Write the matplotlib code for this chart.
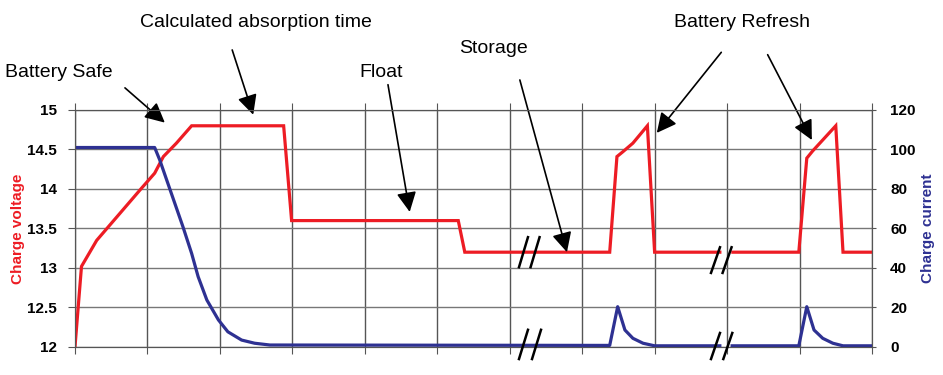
import matplotlib.pyplot as plt
import numpy as np

nan = np.nan

# time in grid units (one unit per vertical grid line), gaps at the axis breaks
t_volt = [0, 0.09, 0.30, 0.90, 1.10, 1.22, 1.40, 1.61, 2.88, 2.99, 5.29, 5.38,
          7.38, 7.48, 7.56, 7.70, 7.90, 8.00, 8.90, nan, 9.08, 9.99, 10.10,
          10.18, 10.50, 10.60, 11.0]
volt = [12.0, 13.02, 13.35, 13.99, 14.2, 14.41, 14.58, 14.8, 14.8, 13.6, 13.6,
        13.2, 13.2, 14.41, 14.47, 14.58, 14.8, 13.2, 13.2, nan, 13.2, 13.2,
        14.39, 14.48, 14.8, 13.2, 13.2]

t_curr = [0, 1.10, 1.17, 1.33, 1.49, 1.61, 1.70, 1.82, 1.98, 2.11, 2.30, 2.48,
          2.69, 7.38, 7.49, 7.59, 7.70, 7.84, 8.00, 8.90, nan, 9.07,
          9.99, 10.10, 10.20, 10.32, 10.46, 10.60, 11.0]
curr = [101, 101, 94.7, 77.8, 60.9, 47.4, 35.6, 23.8, 13.7, 7.7, 3.5, 1.9,
        1.0, 0.8, 20.4, 8.6, 4.4, 1.9, 0.6, 0.6, nan, 0.6, 0.6, 20.4, 8.6,
        4.4, 1.9, 0.6, 0.6]

red = '#ed1c24'
blue = '#2e3192'

fig = plt.figure(figsize=(9.43, 3.75), dpi=100)
ax = fig.add_axes([0.0795, 0.0747, 0.8452, 0.632])
ax2 = ax.twinx()

ax.plot(t_volt, volt, color=red, lw=2.3, solid_joinstyle='miter')
ax2.plot(t_curr, curr, color=blue, lw=2.3)

ax.set_xlim(0, 11)
ax.set_ylim(12, 15)
ax2.set_ylim(0, 120)
ax.set_xticks(range(12))
ax.set_yticks(np.arange(12, 15.01, 0.5))
ax.set_yticklabels(['12', '12.5', '13', '13.5', '14', '14.5', '15'])
ax2.set_yticks(range(0, 121, 20))
ax.grid(True, axis='x', color='#555555', lw=1)
ax.grid(True, axis='y', color='#777777', lw=1)
ax.set_axisbelow(True)

ax.tick_params(axis='x', which='both', direction='out', length=5, top=True,
               labelbottom=False, color='#555555')
ax.tick_params(axis='y', direction='out', length=5, color='#555555', pad=8)
ax2.tick_params(axis='y', direction='out', length=3, color='#555555', pad=10)
for a in (ax, ax2):
    for s in a.spines.values():
        s.set_color('#555555')
    for lab in a.get_yticklabels():
        lab.set_fontweight('bold')
        lab.set_fontsize(11)
        lab.set_family(['Liberation Sans', 'DejaVu Sans'])

ax.set_ylabel('Charge voltage', color=red, fontsize=11, fontweight='bold',
              family=['Liberation Sans', 'DejaVu Sans'])
ax2.set_ylabel('Charge current', color=blue, fontsize=11, fontweight='bold',
               family=['Liberation Sans', 'DejaVu Sans'], labelpad=10)
ax.yaxis.set_label_coords(-0.063, 0.5)
ax2.yaxis.set_label_coords(1.062, 0.5)

# axis break marks
breaks = [(6.19, 48, 7.6), (6.35, 48, 7.6), (6.19, 1.3, 7.4), (6.37, 1.3, 7.4),
          (8.84, 44, 6.5), (9.0, 44, 6.5), (8.84, 0.5, 6.6), (9.01, 0.5, 6.6)]
for bx, by, h in breaks:
    ax2.plot([bx - 0.062, bx + 0.062], [by - h, by + h], color='black', lw=1.8,
             clip_on=False, zorder=5)

# labels with arrows
font = dict(fontsize=14, family=['Liberation Sans', 'DejaVu Sans'], ha='center', va='center')
ax.text(-0.22, 15.48, 'Battery Safe', **font)
ax.text(2.50, 16.11, 'Calculated absorption time', **font)
ax.text(4.23, 15.48, 'Float', **font)
ax.text(5.78, 15.78, 'Storage', **font)
ax.text(9.21, 16.11, 'Battery Refresh', **font)

arrows = [((0.69, 15.28), (1.24, 14.84)),
          ((2.17, 15.76), (2.46, 14.94)),
          ((4.32, 15.32), (4.62, 13.71)),
          ((6.14, 15.38), (6.79, 13.20)),
          ((8.92, 15.73), (8.03, 14.71)),
          ((9.56, 15.70), (10.17, 14.62))]
for start, tip in arrows:
    ax.annotate('', xy=tip, xytext=start, annotation_clip=False,
                arrowprops=dict(arrowstyle='-|>,head_length=0.5,head_width=0.25',
                                color='black', lw=1.2, mutation_scale=24,
                                shrinkA=0, shrinkB=0))

fig.savefig('out.png', dpi=100)
